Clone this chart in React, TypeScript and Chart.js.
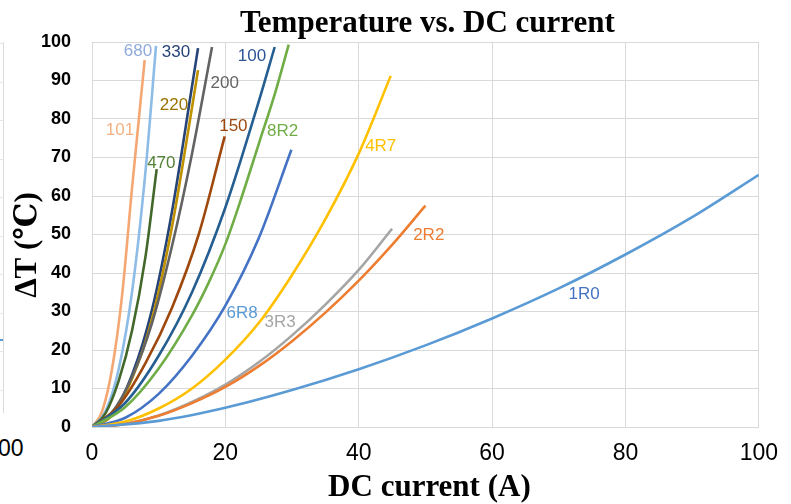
import React, { useEffect, useRef } from "react";
import { Chart, registerables } from "chart.js";

Chart.register(...registerables);

// ---- Data ----
const xTicks = [0, 20, 40, 60, 80, 100];
const yTicks = [0, 10, 20, 30, 40, 50, 60, 70, 80, 90, 100];

const I_1R0 = [0, 10, 20, 30, 40, 50, 60, 70, 80, 90, 100];
const T_1R0 = [0, 1.6, 5.0, 9.6, 15, 21.2, 28.2, 36, 44.8, 54.5, 65.5];

const I_2R2 = [0, 5, 10, 15, 20, 25, 30, 35, 40, 45, 50];
const T_2R2 = [0, 0.8, 2.9, 6.2, 10.4, 15.8, 22.3, 29.7, 38, 47.3, 57.5];

const I_3R3 = [0, 5, 10, 15, 20, 25, 30, 35, 40, 45];
const T_3R3 = [0, 0.8, 3, 6.5, 11, 16.8, 23.8, 31.8, 40.8, 51.5];

const I_4R7 = [0, 5, 10, 15, 20, 25, 30, 35, 40, 44.8];
const T_4R7 = [0, 1.4, 4.8, 10, 17.5, 27, 39.5, 54, 71, 91.2];

const I_6R8 = [0, 5, 10, 15, 20, 25, 29.9];
const T_6R8 = [0, 2.4, 8.6, 18.5, 31.5, 49, 72];

const I_8R2 = [0, 5, 10, 15, 17.5, 20, 22.5, 25, 27.5, 29.5];
const T_8R2 = [0, 5.2, 15.2, 29, 37.5, 47.5, 60, 73.5, 87, 99.3];

const I_100 = [0, 5, 10, 15, 20, 25, 27.4];
const T_100 = [0, 6.3, 18.5, 35, 57, 84.5, 98.7];

const I_150 = [0, 4, 8, 12, 16, 19.9];
const T_150 = [0, 5.5, 16.5, 31, 50, 75.5];

const I_200 = [0, 3, 6, 9, 12, 15, 18];
const T_200 = [0, 3.8, 13, 27, 47, 71, 98.7];

const I_220 = [0, 3, 6, 9, 12, 15, 15.9];
const T_220 = [0, 3, 12.5, 28, 52, 83, 92.7];

const I_330 = [0, 3, 6, 9, 12, 15, 15.9];
const T_330 = [0, 3.2, 13.5, 30.5, 56, 88.5, 98.4];

const I_470 = [0, 2, 4, 6, 8, 9.7];
const T_470 = [0, 3.5, 12, 25, 44, 67];

const I_680 = [0, 2, 4, 6, 8, 9.6];
const T_680 = [0, 4, 15, 35, 66, 99];

const I_101 = [0, 1.5, 3, 4.5, 6, 7.9];
const T_101 = [0, 4, 15, 34, 62, 95.3];

// series names, line colours, label colours
const seriesNames = ["1R0", "2R2", "3R3", "4R7", "6R8", "8R2", "100", "150", "200", "220", "330", "470", "680", "101"];
const seriesI = [I_1R0, I_2R2, I_3R3, I_4R7, I_6R8, I_8R2, I_100, I_150, I_200, I_220, I_330, I_470, I_680, I_101];
const seriesT = [T_1R0, T_2R2, T_3R3, T_4R7, T_6R8, T_8R2, T_100, T_150, T_200, T_220, T_330, T_470, T_680, T_101];
const lineColors = ["#5B9BD5", "#ED7D31", "#A5A5A5", "#FFC000", "#4472C4", "#70AD47", "#255E91", "#9E480E", "#636363", "#BF9000", "#264478", "#43682B", "#8DBDE6", "#F4A772"];
const labelColors = ["#4472C4", "#ED7D31", "#A5A5A5", "#FFC000", "#5B9BD5", "#70AD47", "#2F5597", "#9E480E", "#636363", "#997300", "#264478", "#548235", "#8FAADC", "#F4B183"];
// label anchor (data coords, centre of text)
const labelI = [73.8, 50.5, 28.2, 43.3, 22.5, 28.6, 24, 21.2, 19.9, 12.3, 12.6, 10.4, 6.9, 4.2];
const labelT = [34.5, 49.9, 27.3, 73, 29.6, 76.9, 96.3, 78, 89.3, 83.5, 97.3, 68.5, 97.6, 77];

const titleText = "Temperature vs. DC current";
const xTitleText = "DC current (A)";
const yTitleText = "ΔT (℃)";

const textPlugin = {
  id: "textPlugin",
  afterDatasetsDraw(chart: any) {
    const { ctx, chartArea, scales } = chart;
    ctx.save();
    ctx.textAlign = "center";
    ctx.textBaseline = "middle";
    ctx.font = '17px "Liberation Sans", Arial, sans-serif';
    for (let i = 0; i < seriesNames.length; i++) {
      const px = scales.x.getPixelForValue(labelI[i]);
      const py = scales.y.getPixelForValue(labelT[i]);
      ctx.fillStyle = labelColors[i];
      ctx.fillText(seriesNames[i], px, py);
    }
    const cx = (chartArea.left + chartArea.right) / 2;
    ctx.fillStyle = "#000";
    ctx.font = 'bold 31px "Liberation Serif", "Times New Roman", serif';
    ctx.textBaseline = "alphabetic";
    ctx.fillText(titleText, cx + 2, 32);
    ctx.font = 'bold 31px "Liberation Serif", "Times New Roman", serif';
    ctx.fillText(xTitleText, cx + 4, 496);
    ctx.save();
    ctx.translate(28, 245);
    ctx.rotate(-Math.PI / 2);
    ctx.textBaseline = "middle";
    ctx.font = 'bold 31px "Liberation Serif", "DejaVu Serif", serif';
    ctx.fillText(yTitleText, 0, 0);
    ctx.restore();
    ctx.restore();
  },
};

export default function App() {
  const ref = useRef<HTMLCanvasElement | null>(null);
  useEffect(() => {
    if (!ref.current) return;
    const datasets = seriesNames.map((name, i) => ({
      label: name,
      data: seriesI[i].map((v, k) => ({ x: v, y: seriesT[i][k] })),
      borderColor: lineColors[i],
      backgroundColor: lineColors[i],
      borderWidth: 2.6,
      pointRadius: 0,
      fill: false,
      cubicInterpolationMode: "monotone" as const,
      tension: 0.4,
    }));
    const chart = new Chart(ref.current, {
      type: "line",
      data: { datasets },
      options: {
        animation: false,
        responsive: true,
        maintainAspectRatio: false,
        layout: { padding: { top: 42, right: 31, left: 0, bottom: 0 } },
        plugins: { legend: { display: false }, tooltip: { enabled: false }, title: { display: false } },
        scales: {
          x: {
            type: "linear",
            min: 0,
            max: 100,
            afterBuildTicks: (s: any) => { s.ticks = xTicks.map((v) => ({ value: v })); },
            afterFit: (s: any) => { s.height = 77; },
            ticks: {
              color: "#000",
              padding: 13,
              font: { family: '"Liberation Sans", Arial, sans-serif', size: 23 },
            },
            grid: { color: "#D9D9D9", lineWidth: 1, drawTicks: false },
            border: { color: "#D9D9D9", width: 1 },
          },
          y: {
            type: "linear",
            min: 0,
            max: 100,
            afterBuildTicks: (s: any) => { s.ticks = yTicks.map((v) => ({ value: v })); },
            afterFit: (s: any) => { s.width = 92; },
            ticks: {
              color: "#000",
              padding: 21,
              font: { family: '"Liberation Sans", Arial, sans-serif', size: 18, weight: "bold" },
            },
            grid: { color: "#D9D9D9", lineWidth: 1, drawTicks: false },
            border: { color: "#D9D9D9", width: 1 },
          },
        },
      },
      plugins: [textPlugin],
    });
    return () => chart.destroy();
  }, []);

  const stubs = yTicks.slice(1).map((v, i) => (
    <div key={v} style={{ position: "absolute", left: 0, width: 4, top: 43 + i * 38.5, height: 1, background: "#E6E6E6" }} />
  ));

  return (
    <div style={{ position: "fixed", left: 0, top: 0, width: 791, height: 504, background: "#fff", overflow: "hidden" }}>
      <div style={{ position: "absolute", left: 3, top: 42, width: 1, height: 371, background: "#D9D9D9" }} />
      {stubs}
      <div style={{ position: "absolute", left: 0, top: 339, width: 3, height: 2, background: "#5B9BD5" }} />
      <div style={{ position: "absolute", left: -2, top: 436, fontFamily: '"Liberation Sans", sans-serif', fontSize: 23, lineHeight: "24px", color: "#000" }}>00</div>
      <canvas ref={ref} style={{ position: "absolute", left: 0, top: 0 }} />
    </div>
  );
}
